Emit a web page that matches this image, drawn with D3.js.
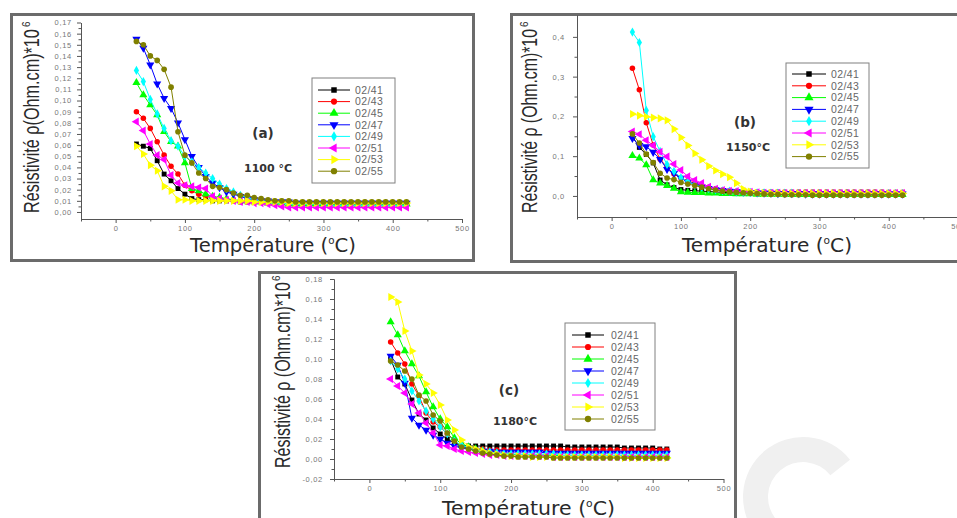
<!DOCTYPE html>
<html>
<head>
<meta charset="utf-8">
<script src="https://cdn.jsdelivr.net/npm/d3@7"></script>
<style>
  body { margin: 0; background: #ffffff; }
  svg { display: block; }
</style>
</head>
<body>
<svg id="fig" width="957" height="518"></svg>
<script>
// ---- measured resistivity (ρ ×10^6, Ohm.cm) versus temperature (°C) ----
const temps = [30,40,50,60,70,80,90,100,110,120,130,140,150,160,170,180,190,200,210,220,
               230,240,250,260,270,280,290,300,310,320,330,340,350,360,370,380,390,400,410,420];

const sampleIds = ["02/41","02/43","02/45","02/47","02/49","02/51","02/53","02/55"];
const sampleColors = ["#000000","#ff0000","#00ff00","#0000ff","#00ffff","#ff00ff","#ffff00","#808000"];
const sampleMarkers = ["square","circle","up","down","diamond","left","right","hexagon"];

// annealed at 1100 °C
const a41 = [0.061,0.059,0.057,0.046,0.034,0.028,0.021,0.016,0.012,0.011,0.011,0.010,0.010,0.010,0.010,0.009,0.009,0.009,0.009,0.009,
             0.009,0.009,0.008,0.008,0.008,0.008,0.008,0.008,0.008,0.008,0.008,0.008,0.008,0.008,0.008,0.008,0.008,0.008,0.008,0.008];
const a43 = [0.090,0.084,0.075,0.063,0.051,0.041,0.034,0.024,0.019,0.016,0.014,0.013,0.012,0.011,0.010,0.010,0.010,0.009,0.009,0.009,
             0.008,0.008,0.008,0.008,0.008,0.007,0.007,0.007,0.007,0.007,0.007,0.007,0.007,0.007,0.007,0.007,0.007,0.007,0.007,0.007];
const a45 = [0.116,0.105,0.096,0.087,0.072,0.063,0.059,0.044,0.021,0.019,0.016,0.014,0.013,0.012,0.011,0.010,0.010,0.009,0.009,0.008,
             0.008,0.008,0.007,0.007,0.007,0.007,0.007,0.007,0.007,0.007,0.007,0.007,0.007,0.007,0.007,0.007,0.007,0.007,0.007,0.007];
const a47 = [0.155,0.147,0.132,0.115,0.102,0.093,0.080,0.065,0.050,0.040,0.032,0.026,0.022,0.018,0.016,0.014,0.012,0.011,0.010,0.010,
             0.009,0.009,0.009,0.008,0.008,0.008,0.008,0.008,0.008,0.008,0.008,0.008,0.008,0.008,0.008,0.008,0.008,0.008,0.008,0.008];
const a49 = [0.127,0.117,0.101,0.088,0.075,0.064,0.059,0.050,0.045,0.040,0.035,0.030,0.025,0.021,0.018,0.015,0.013,0.011,0.010,0.009,
             0.008,0.008,0.007,0.007,0.007,0.007,0.007,0.007,0.006,0.006,0.006,0.006,0.006,0.006,0.006,0.006,0.006,0.006,0.006,0.006];
const a51 = [0.081,0.073,0.061,0.051,0.047,0.033,0.026,0.024,0.023,0.022,0.021,0.014,0.012,0.011,0.010,0.009,0.009,0.008,0.008,0.007,
             0.006,0.005,0.004,0.004,0.004,0.004,0.004,0.004,0.004,0.004,0.004,0.004,0.004,0.004,0.004,0.004,0.004,0.004,0.004,0.004];
const a53 = [0.059,0.052,0.042,0.037,0.023,0.019,0.011,0.011,0.010,0.010,0.010,0.010,0.010,0.010,0.010,0.010,0.010,0.009,0.009,0.009,
             0.009,0.009,0.008,0.008,0.008,0.008,0.008,0.008,0.008,0.008,0.008,0.008,0.008,0.008,0.008,0.008,0.008,0.008,0.008,0.008];
const a55 = [0.153,0.150,0.140,0.136,0.128,0.112,0.072,0.051,0.044,0.035,0.030,0.023,0.022,0.020,0.017,0.015,0.015,0.013,0.012,0.011,
             0.010,0.010,0.010,0.009,0.009,0.009,0.009,0.009,0.009,0.009,0.009,0.009,0.009,0.009,0.009,0.009,0.009,0.009,0.009,0.009];

// annealed at 1150 °C
const b41 = [0.150,0.122,0.104,0.083,0.040,0.028,0.021,0.016,0.014,0.013,0.012,0.011,0.010,0.009,0.008,0.008,0.007,0.007,0.006,0.006,
             0.006,0.005,0.005,0.005,0.005,0.005,0.004,0.004,0.004,0.004,0.004,0.004,0.004,0.004,0.004,0.004,0.004,0.004,0.004,0.004];
const b43 = [0.321,0.267,0.184,0.128,0.092,0.072,0.055,0.045,0.038,0.032,0.027,0.022,0.018,0.015,0.013,0.012,0.011,0.011,0.010,0.010,
             0.010,0.010,0.010,0.010,0.010,0.010,0.010,0.010,0.010,0.010,0.010,0.010,0.010,0.010,0.010,0.010,0.010,0.009,0.009,0.009];
const b45 = [0.101,0.095,0.078,0.040,0.032,0.026,0.019,0.010,0.009,0.008,0.008,0.007,0.007,0.006,0.006,0.005,0.005,0.005,0.004,0.004,
             0.004,0.004,0.004,0.003,0.003,0.003,0.003,0.003,0.003,0.003,0.003,0.003,0.003,0.003,0.003,0.003,0.003,0.003,0.003,0.003];
const b47 = [0.145,0.127,0.124,0.110,0.092,0.067,0.057,0.045,0.035,0.028,0.023,0.019,0.016,0.014,0.012,0.011,0.010,0.009,0.008,0.007,
             0.007,0.006,0.006,0.006,0.006,0.005,0.005,0.005,0.005,0.005,0.005,0.005,0.005,0.005,0.005,0.005,0.005,0.005,0.005,0.005];
const b49 = [0.412,0.386,0.215,0.149,0.112,0.079,0.062,0.046,0.036,0.028,0.022,0.018,0.015,0.013,0.012,0.010,0.009,0.009,0.008,0.008,
             0.007,0.007,0.007,0.007,0.006,0.006,0.006,0.006,0.006,0.006,0.006,0.006,0.006,0.006,0.006,0.006,0.006,0.006,0.006,0.006];
const b51 = [0.162,0.155,0.140,0.127,0.111,0.099,0.080,0.065,0.049,0.040,0.032,0.023,0.018,0.015,0.013,0.012,0.011,0.010,0.009,0.008,
             0.008,0.008,0.007,0.007,0.007,0.007,0.007,0.007,0.007,0.007,0.007,0.007,0.007,0.007,0.007,0.007,0.007,0.007,0.007,0.007];
const b53 = [0.206,0.202,0.199,0.197,0.195,0.190,0.168,0.147,0.127,0.107,0.091,0.075,0.064,0.055,0.047,0.032,0.017,0.011,0.008,0.007,
             0.007,0.007,0.006,0.006,0.006,0.006,0.006,0.006,0.006,0.006,0.006,0.006,0.006,0.006,0.006,0.006,0.006,0.006,0.006,0.006];
const b55 = [0.156,0.133,0.105,0.084,0.057,0.045,0.041,0.034,0.030,0.026,0.022,0.018,0.015,0.012,0.010,0.009,0.008,0.007,0.006,0.005,
             0.004,0.004,0.003,0.003,0.003,0.003,0.002,0.002,0.002,0.002,0.002,0.002,0.002,0.002,0.002,0.002,0.002,0.002,0.002,0.002];

// annealed at 1180 °C
const c41 = [0.100,0.082,0.075,0.059,0.045,0.039,0.031,0.025,0.020,0.016,0.014,0.013,0.013,0.013,0.013,0.013,0.013,0.013,0.013,0.013,
             0.013,0.013,0.013,0.013,0.013,0.012,0.012,0.012,0.012,0.012,0.012,0.012,0.012,0.011,0.011,0.011,0.011,0.011,0.010,0.010];
const c43 = [0.117,0.106,0.095,0.075,0.063,0.046,0.037,0.032,0.025,0.018,0.013,0.011,0.010,0.010,0.009,0.009,0.009,0.009,0.009,0.009,
             0.009,0.009,0.009,0.009,0.009,0.009,0.009,0.009,0.009,0.009,0.009,0.009,0.009,0.009,0.009,0.009,0.009,0.009,0.009,0.009];
const c45 = [0.137,0.124,0.108,0.095,0.083,0.067,0.052,0.040,0.032,0.021,0.015,0.012,0.010,0.008,0.007,0.006,0.005,0.005,0.004,0.004,
             0.004,0.004,0.004,0.004,0.003,0.003,0.003,0.003,0.003,0.003,0.003,0.003,0.003,0.003,0.003,0.003,0.003,0.003,0.003,0.003];
const c47 = [0.103,0.094,0.076,0.041,0.034,0.029,0.024,0.020,0.016,0.013,0.011,0.010,0.009,0.008,0.008,0.007,0.007,0.007,0.007,0.007,
             0.007,0.007,0.006,0.006,0.006,0.006,0.006,0.006,0.006,0.006,0.006,0.006,0.006,0.006,0.006,0.006,0.006,0.006,0.006,0.006];
const c49 = [0.098,0.090,0.080,0.068,0.058,0.048,0.040,0.032,0.025,0.018,0.014,0.011,0.009,0.008,0.007,0.006,0.005,0.005,0.005,0.005,
             0.005,0.005,0.005,0.005,0.004,0.004,0.004,0.004,0.004,0.004,0.004,0.004,0.004,0.004,0.004,0.004,0.004,0.004,0.004,0.004];
const c51 = [0.080,0.073,0.066,0.055,0.046,0.036,0.026,0.014,0.013,0.010,0.008,0.007,0.006,0.005,0.004,0.004,0.003,0.003,0.003,0.003,
             0.003,0.003,0.003,0.002,0.002,0.002,0.002,0.002,0.002,0.002,0.002,0.002,0.002,0.002,0.002,0.002,0.002,0.002,0.002,0.002];
const c53 = [0.162,0.157,0.128,0.108,0.084,0.075,0.066,0.054,0.039,0.029,0.019,0.012,0.010,0.008,0.006,0.005,0.004,0.003,0.003,0.003,
             0.002,0.002,0.002,0.002,0.002,0.002,0.002,0.002,0.002,0.002,0.002,0.002,0.002,0.001,0.001,0.001,0.001,0.001,0.001,0.001];
const c55 = [0.098,0.094,0.088,0.080,0.064,0.058,0.044,0.038,0.026,0.018,0.012,0.010,0.008,0.006,0.005,0.004,0.003,0.003,0.002,0.002,
             0.002,0.002,0.002,0.001,0.001,0.001,0.001,0.001,0.001,0.001,0.001,0.001,0.001,0.001,0.001,0.001,0.001,0.001,0.001,0.001];

// axis ticks
const xTicks = [0,100,200,300,400,500];
const xMinorTicks = [-50,50,150,250,350,450];
const yTicksA = [0,0.01,0.02,0.03,0.04,0.05,0.06,0.07,0.08,0.09,0.10,0.11,0.12,0.13,0.14,0.15,0.16,0.17];
const yTicksB = [0,0.1,0.2,0.3,0.4];
const yTicksC = [-0.02,0,0.02,0.04,0.06,0.08,0.10,0.12,0.14,0.16,0.18];

const tagLabels = ["(a)","(b)","(c)"];
const annealLabels = ["1100 °C","1150°C","1180°C"];

// ---- figure ----
const svg = d3.select("#fig");

// faint ring in the lower right corner of the page
svg.append("path")
  .attr("transform", "translate(803,497)")
  .attr("d", d3.arc()({innerRadius: 35, outerRadius: 60, startAngle: -2.3, endAngle: 0.9}))
  .attr("fill", "#f0f0f0");

function commaFmt(digits) {
  const f = d3.format("." + digits + "f");
  return v => f(v).replace(".", ",").replace("−", "-");
}

function markerPath(kind, size) {
  switch (kind) {
    case "square":  return { d: d3.symbol(d3.symbolSquare, size)(), rot: 0 };
    case "circle":  return { d: d3.symbol(d3.symbolCircle, size)(), rot: 0 };
    case "up":      return { d: d3.symbol(d3.symbolTriangle, size * 1.2)(), rot: 0 };
    case "down":    return { d: d3.symbol(d3.symbolTriangle, size * 1.2)(), rot: 180 };
    case "left":    return { d: d3.symbol(d3.symbolTriangle, size * 1.2)(), rot: -90 };
    case "right":   return { d: d3.symbol(d3.symbolTriangle, size * 1.2)(), rot: 90 };
    case "diamond": return { d: d3.symbol(d3.symbolDiamond, size)(), rot: 0 };
    default:        return { d: d3.symbol(d3.symbolCircle, size * 1.05)(), rot: 0 };
  }
}

const panels = [
  {
    series: [a41,a43,a45,a47,a49,a51,a53,a55],
    frame: {x: 11.5, y: 14.5, w: 462, h: 246},
    xRange: [81, 462], yRange: [219, 22.5], yDomain: [-0.0063, 0.17],
    yTicks: yTicksA, yFmt: commaFmt(2), yPad: 5,
    legend: {x: 312, y: 78, w: 83, h: 105, row0: 90, dy: 11.6, l0: 318, l1: 350, tx: 355},
    tag: {x: 263, y: 138}, anneal: {x: 268, y: 172},
    xTitle: {x: 190, y: 252, len: 166},
    yTitle: {x: 39, y: 213, len: 184, text: "Résistivité ρ(Ohm.cm)*10", sx: 30, sy: 27}
  },
  {
    series: [b41,b43,b45,b47,b49,b51,b53,b55],
    frame: {x: 511.5, y: 14.5, w: 470, h: 247},
    xRange: [577, 958], yRange: [217, 15], yDomain: [-0.053, 0.455],
    yTicks: yTicksB, yFmt: commaFmt(1), yPad: 8,
    legend: {x: 786, y: 63, w: 83, h: 105, row0: 74, dy: 11.8, l0: 792, l1: 826, tx: 831},
    tag: {x: 745, y: 127}, anneal: {x: 748, y: 151},
    xTitle: {x: 682, y: 252, len: 170},
    yTitle: {x: 537, y: 213, len: 184, text: "Résistivité ρ (Ohm.cm)*10", sx: 528, sy: 27}
  },
  {
    series: [c41,c43,c45,c47,c49,c51,c53,c55],
    frame: {x: 259.5, y: 272.5, w: 476, h: 260},
    xRange: [334, 723.5], yRange: [479, 279], yDomain: [-0.02, 0.18],
    yTicks: yTicksC, yFmt: commaFmt(2), yPad: 7,
    legend: {x: 565, y: 323, w: 90, h: 107, row0: 335, dy: 12, l0: 572, l1: 604, tx: 611},
    tag: {x: 509, y: 395}, anneal: {x: 515, y: 425},
    xTitle: {x: 442, y: 515, len: 173},
    yTitle: {x: 290, y: 468, len: 186, text: "Résistivité ρ (Ohm.cm)*10", sx: 280, sy: 281}
  }
];

panels.forEach((p, pi) => {
  const g = svg.append("g");

  // panel frame
  g.append("rect")
    .attr("x", p.frame.x).attr("y", p.frame.y)
    .attr("width", p.frame.w).attr("height", p.frame.h)
    .attr("fill", "#ffffff").attr("stroke", "#6b6b6b").attr("stroke-width", 3);

  const x = d3.scaleLinear().domain([-50, 500]).range(p.xRange);
  const y = d3.scaleLinear().domain(p.yDomain).range(p.yRange);

  // minor ticks (midway between labelled ticks)
  const yMinor = [];
  for (let i = 0; i < p.yTicks.length - 1; i++) yMinor.push((p.yTicks[i] + p.yTicks[i + 1]) / 2);

  const axisStyle = sel => {
    sel.selectAll("path, line").attr("stroke", "#555").attr("stroke-width", 1);
    sel.selectAll("text").attr("fill", "#777").attr("font-family", "Liberation Sans, Arial, sans-serif")
      .attr("font-size", 7.5).attr("letter-spacing", 0.7);
  };

  g.append("g").attr("transform", `translate(0,${p.yRange[0]})`)
    .call(d3.axisBottom(x).tickValues(xMinorTicks).tickSize(2.5).tickSizeOuter(0).tickFormat(""))
    .call(axisStyle);
  g.append("g").attr("transform", `translate(0,${p.yRange[0]})`)
    .call(d3.axisBottom(x).tickValues(xTicks).tickSize(4).tickSizeOuter(0).tickPadding(3).tickFormat(d3.format("d")))
    .call(axisStyle);

  g.append("g").attr("transform", `translate(${p.xRange[0]},0)`)
    .call(d3.axisLeft(y).tickValues(yMinor).tickSize(2.5).tickSizeOuter(0).tickFormat(""))
    .call(axisStyle);
  g.append("g").attr("transform", `translate(${p.xRange[0]},0)`)
    .call(d3.axisLeft(y).tickValues(p.yTicks).tickSize(4).tickSizeOuter(0).tickPadding(p.yPad).tickFormat(p.yFmt))
    .call(axisStyle);

  // data series: thin connecting lines with markers
  const line = d3.line().x((d, i) => x(temps[i])).y(d => y(d));
  p.series.forEach((vals, si) => {
    const col = sampleColors[si];
    g.append("path").attr("d", line(vals))
      .attr("fill", "none").attr("stroke", col).attr("stroke-width", 1);
    const m = markerPath(sampleMarkers[si], 24);
    g.append("g").selectAll("path").data(vals).join("path")
      .attr("transform", (d, i) => `translate(${x(temps[i])},${y(d)}) rotate(${m.rot})`)
      .attr("d", m.d).attr("fill", col);
  });

  // legend
  const L = p.legend;
  const lg = g.append("g");
  lg.append("rect").attr("x", L.x).attr("y", L.y).attr("width", L.w).attr("height", L.h)
    .attr("fill", "#ffffff").attr("stroke", "#808080").attr("stroke-width", 1);
  sampleIds.forEach((id, si) => {
    const cy = L.row0 + si * L.dy;
    lg.append("line").attr("x1", L.l0).attr("x2", L.l1).attr("y1", cy).attr("y2", cy)
      .attr("stroke", sampleColors[si]).attr("stroke-width", 1);
    const m = markerPath(sampleMarkers[si], 30);
    lg.append("path").attr("transform", `translate(${(L.l0 + L.l1) / 2},${cy}) rotate(${m.rot})`)
      .attr("d", m.d).attr("fill", sampleColors[si]);
    lg.append("text").attr("x", L.tx).attr("y", cy + 3.8)
      .attr("font-family", "Liberation Sans, Arial, sans-serif").attr("font-size", 10.5)
      .attr("letter-spacing", 0.4).attr("fill", "#666").text(id);
  });

  // panel tag and annealing temperature
  g.append("text").attr("x", p.tag.x).attr("y", p.tag.y).attr("text-anchor", "middle")
    .attr("font-family", "DejaVu Sans, sans-serif").attr("font-weight", "bold").attr("font-size", 13.5)
    .attr("fill", "#333").text(tagLabels[pi]);
  g.append("text").attr("x", p.anneal.x).attr("y", p.anneal.y).attr("text-anchor", "middle")
    .attr("font-family", "DejaVu Sans, sans-serif").attr("font-weight", "bold").attr("font-size", 11)
    .attr("fill", "#333").text(annealLabels[pi]);

  // x-axis title
  const xt = g.append("text").attr("x", p.xTitle.x).attr("y", p.xTitle.y)
    .attr("font-family", "DejaVu Sans, sans-serif").attr("font-size", 19)
    .attr("fill", "#2a2a2a").attr("textLength", p.xTitle.len).attr("lengthAdjust", "spacingAndGlyphs");
  xt.append("tspan").text("Température (");
  xt.append("tspan").attr("font-size", 10).attr("dy", -8).text("o");
  xt.append("tspan").attr("dy", 8).text("C)");

  // y-axis title, horizontally condensed to the plot height
  const yt = g.append("text")
    .attr("font-family", "Liberation Sans, Arial, sans-serif").attr("font-size", 22)
    .attr("fill", "#2a2a2a").text(p.yTitle.text);
  const natural = yt.node().getComputedTextLength();
  yt.attr("transform", `translate(${p.yTitle.x},${p.yTitle.y}) rotate(-90) scale(${p.yTitle.len / natural},1)`);
  g.append("text").attr("transform", `translate(${p.yTitle.sx},${p.yTitle.sy}) rotate(-90)`)
    .attr("font-family", "Liberation Sans, Arial, sans-serif").attr("font-size", 10)
    .attr("fill", "#2a2a2a").text("6");
});
</script>
</body>
</html>
